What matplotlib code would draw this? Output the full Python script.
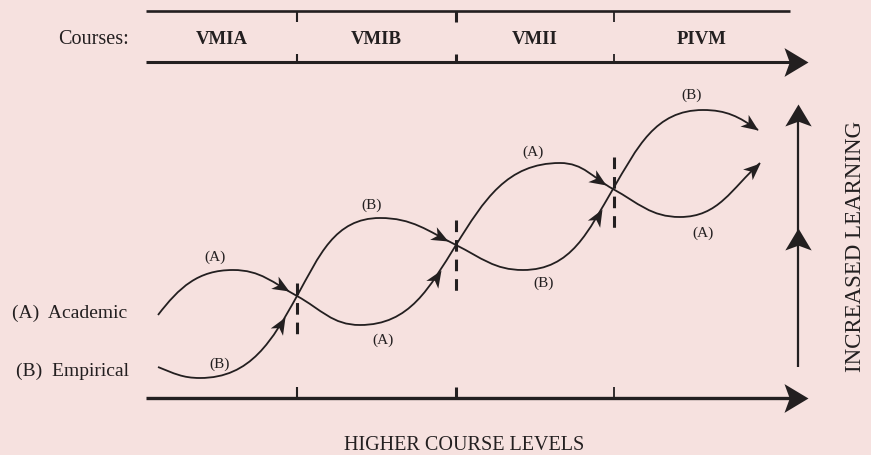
import numpy as np
import matplotlib
matplotlib.use('Agg')
import matplotlib.pyplot as plt
from matplotlib.path import Path
from matplotlib.patches import PathPatch
from matplotlib.markers import MarkerStyle
from matplotlib.transforms import Affine2D
from matplotlib.bezier import split_de_casteljau

W, H = 871, 455
BG = '#F6E1DF'
INK = '#231F20'
FONT = 'Liberation Serif'

# ---- content -------------------------------------------------------------
courses = ['VMIA', 'VMIB', 'VMII', 'PIVM']
course_edges = [146, 297, 456, 614, 790]
tick_widths = [1.5, 2.2, 1.3]
axis_end = 808
band_top_y = 11
band_bottom_y = 62
axis_y = 398
vert_x = 798
vert_bottom, vert_top = 367, 104
vert_mid_arrow = 228

# curve nodes (x, y in picture pixels, slope dy/dx)
curve_A_x = [158, 233, 297, 360, 456, 560, 613, 680, 760]
curve_A_y = [315, 270, 296, 325, 245, 163, 189, 217, 163]
curve_A_slope = [-1.3, 0, 0.55, 0, -1.6, 0, 0.55, 0, -0.9]
curve_A_arrows = [(1, 0.88), (3, 0.80), (5, 0.88), (7, 1.0)]

curve_B_x = [158, 200, 297, 380, 456, 523, 613, 703, 758]
curve_B_y = [367, 378, 296, 218, 245, 270, 189, 110, 130]
curve_B_slope = [0.4, 0, -1.8, 0, 0.5, 0, -1.7, 0, 0.7]
curve_B_arrows = [(1, 0.84), (3, 0.90), (5, 0.84), (7, 1.0)]

# crossing dashed markers: x, y_top, y_bottom
dash_x = [297, 456, 614]
dash_top = [283, 220, 157]
dash_bot = [335, 292, 228]

# curve labels
label_text = ['(A)', '(B)', '(B)', '(A)', '(A)', '(B)', '(B)', '(A)']
label_x = [215, 220, 372, 383, 533, 544, 692, 703]
label_y = [257, 364, 205, 340, 152, 283, 95, 233]

legend_text = ['(A)  Academic', '(B)  Empirical']
legend_x = [12, 16]
legend_y = [318, 376]

# ---- figure --------------------------------------------------------------
fig = plt.figure(figsize=(W / 100, H / 100), dpi=100, facecolor=BG)
ax = fig.add_axes([0, 0, 1, 1])
ax.set_xlim(0, W)
ax.set_ylim(H, 0)
ax.axis('off')
ax.set_facecolor(BG)


def head_marker(half_width, notch):
    verts = [(0, 0), (-1, half_width), (-notch, 0), (-1, -half_width), (0, 0)]
    codes = [Path.MOVETO, Path.LINETO, Path.LINETO, Path.LINETO, Path.CLOSEPOLY]
    return Path(verts, codes)


SMALL_HEAD = head_marker(0.42, 0.72)
BIG_HEAD = head_marker(0.60, 0.78)


def draw_head(x, y, dx, dy, path, length_px):
    ang = np.degrees(np.arctan2(-dy, dx))
    m = MarkerStyle(path, transform=Affine2D().rotate_deg(ang))
    ax.plot([x], [y], ls='none', marker=m, ms=2 * length_px * 0.72,
            color=INK, mew=0, zorder=5)


def bezier_segments(xs, ys, slopes, k=0.4):
    segs = []
    for i in range(len(xs) - 1):
        p0 = np.array([xs[i], ys[i]], float)
        p3 = np.array([xs[i + 1], ys[i + 1]], float)
        L = np.hypot(*(p3 - p0))
        u0 = np.array([1.0, slopes[i]]); u0 /= np.hypot(*u0)
        u3 = np.array([1.0, slopes[i + 1]]); u3 /= np.hypot(*u3)
        segs.append(np.array([p0, p0 + u0 * L * k, p3 - u3 * L * k, p3]))
    return segs


def draw_curve(xs, ys, slopes, arrows):
    segs = bezier_segments(xs, ys, slopes)
    verts = [segs[0][0]]
    codes = [Path.MOVETO]
    for s in segs:
        verts.extend(s[1:])
        codes.extend([Path.CURVE4] * 3)
    ax.add_patch(PathPatch(Path(verts, codes), fill=False, ec=INK, lw=1.3,
                           capstyle='butt'))
    for idx, t in arrows:
        left, _ = split_de_casteljau(segs[idx], t)
        tip = left[-1]
        d = left[-1] - left[-2]
        draw_head(tip[0], tip[1], d[0], d[1], SMALL_HEAD, 17)


draw_curve(curve_A_x, curve_A_y, curve_A_slope, curve_A_arrows)
draw_curve(curve_B_x, curve_B_y, curve_B_slope, curve_B_arrows)

# dashed crossing markers
for x, y0, y1 in zip(dash_x, dash_top, dash_bot):
    ax.plot([x, x], [y0, y1], color=INK, lw=2.2, ls=(0, (3.8, 2.6)),
            solid_capstyle='butt', dash_capstyle='butt')

# course band
ax.plot([course_edges[0], course_edges[-1]], [band_top_y, band_top_y],
        color=INK, lw=1.9, solid_capstyle='butt')
ax.plot([course_edges[0], axis_end - 14], [band_bottom_y, band_bottom_y],
        color=INK, lw=2.2, solid_capstyle='butt')
draw_head(axis_end, band_bottom_y, 1, 0, BIG_HEAD, 24)
for x, lw in zip(course_edges[1:-1], tick_widths):
    ax.plot([x, x], [band_top_y, band_top_y + 11], color=INK, lw=lw,
            solid_capstyle='butt')
    ax.plot([x, x], [band_bottom_y - 8, band_bottom_y], color=INK, lw=lw,
            solid_capstyle='butt')

ax.text(129, 44, 'Courses:', ha='right', va='baseline', fontsize=14.5,
        family=FONT, color=INK)
for i, name in enumerate(courses):
    cx = (course_edges[i] + course_edges[i + 1]) / 2
    ax.text(cx, 44, name, ha='center', va='baseline', fontsize=13.5,
            family=FONT, weight='bold', color=INK)

# bottom axis
ax.plot([course_edges[0], axis_end - 14], [axis_y, axis_y], color=INK,
        lw=2.4, solid_capstyle='butt')
draw_head(axis_end, axis_y, 1, 0, BIG_HEAD, 24)
for x, lw in zip(course_edges[1:-1], tick_widths):
    ax.plot([x, x], [axis_y - 11, axis_y], color=INK, lw=lw,
            solid_capstyle='butt')
ax.text(464, 450, 'HIGHER COURSE LEVELS',
        ha='center', va='baseline', fontsize=14.5, family=FONT, color=INK)

# vertical arrow
ax.plot([vert_x, vert_x], [vert_bottom, vert_top + 14], color=INK, lw=1.6,
        solid_capstyle='butt')
draw_head(vert_x, vert_top, 0, -1, BIG_HEAD, 22)
draw_head(vert_x, vert_mid_arrow, 0, -1, BIG_HEAD, 22)
ax.text(855, 247, 'INCREASED LEARNING', rotation=90, ha='center',
        va='center', fontsize=16.5, family=FONT, color=INK)

# legend
for t, x, y in zip(legend_text, legend_x, legend_y):
    ax.text(x, y, t, ha='left', va='baseline', fontsize=14, family=FONT,
            color=INK)

# curve labels
for t, x, y in zip(label_text, label_x, label_y):
    ax.text(x, y, t, ha='center', va='center', fontsize=11, family=FONT,
            color=INK)

fig.savefig('out.png', dpi=100, facecolor=BG)
